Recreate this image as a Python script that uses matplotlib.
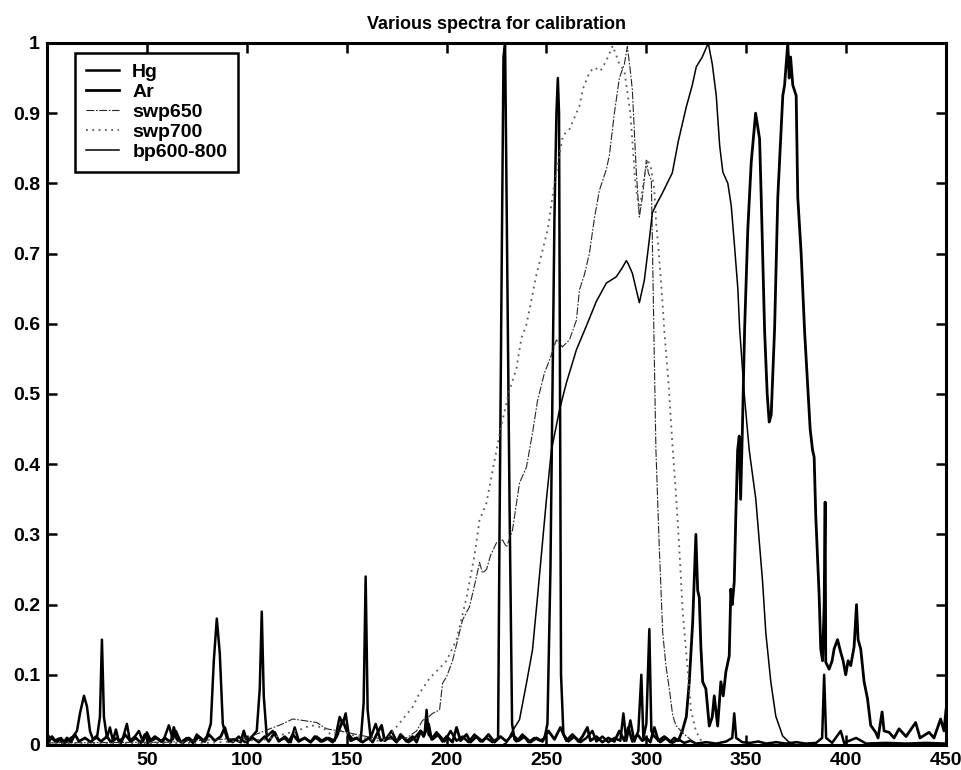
import matplotlib
matplotlib.use("Agg")
import matplotlib.pyplot as plt

plt.rcParams['font.family'] = ['Liberation Sans', 'DejaVu Sans']
plt.rcParams['font.weight'] = 'bold'

# ---- data (x = pixel index, y = normalised intensity)
hg_x = [1, 3, 5, 7, 9, 11, 13, 15, 16.5, 18.5, 20, 21.5, 23, 25, 26.5, 27.5, 28.5, 30,
        31.5, 33, 34.5, 36, 38, 40, 41.5, 44, 46, 48, 50, 52, 55, 58, 61, 63, 64.5, 67,
        70, 73, 75, 78, 80, 82, 83.5, 85, 86.5, 88, 90, 93, 96, 99, 102, 105, 106.5,
        107.5, 108.5, 110, 113, 116, 119, 122, 124, 126, 129, 132, 135, 138, 141, 144,
        146.5, 148, 149.5, 151, 153, 155, 157, 158.5, 159.5, 160.5, 162, 164.5, 167, 170,
        172.5, 175, 178, 181, 184, 187, 189, 190, 191, 193, 196, 199, 202, 205, 208, 211,
        214, 217, 220, 223, 225.8, 226.5, 227.5, 228.5, 229.3, 230.3, 231.5, 232.8, 234,
        235, 238, 241, 244, 247, 249, 250.5, 251.3, 252, 253, 254, 255, 255.7, 256.3, 256.8,
        257.3, 258.5, 261, 264, 267, 270, 273, 275, 278, 281, 284, 287, 288.5, 290, 292, 294,
        296, 297.5, 298.5, 300, 301.5, 302.5, 304, 307, 310, 313, 316, 319, 322, 325, 330,
        335, 340, 343, 344, 345, 348, 352, 356, 360, 365, 370, 375, 380, 385, 388, 389,
        390, 393, 397.3, 399, 405, 410, 420, 430, 440, 450]
hg_y = [0.012, 0.008, 0.004, 0.01, 0.003, 0.008, 0.012, 0.02, 0.045, 0.07, 0.055, 0.02,
        0.008, 0.01, 0.04, 0.15, 0.04, 0.01, 0.025, 0.006, 0.022, 0.005, 0.01, 0.03, 0.006,
        0.012, 0.02, 0.005, 0.018, 0.006, 0.01, 0.004, 0.028, 0.008, 0.02, 0.004, 0.01,
        0.003, 0.015, 0.005, 0.012, 0.03, 0.12, 0.18, 0.13, 0.03, 0.01, 0.004, 0.012, 0.004,
        0.01, 0.02, 0.08, 0.19, 0.07, 0.012, 0.02, 0.005, 0.012, 0.004, 0.025, 0.006, 0.01,
        0.004, 0.012, 0.005, 0.01, 0.006, 0.04, 0.03, 0.045, 0.015, 0.008, 0.01, 0.005,
        0.06, 0.24, 0.05, 0.01, 0.03, 0.006, 0.01, 0.02, 0.005, 0.012, 0.004, 0.01, 0.02,
        0.015, 0.05, 0.015, 0.008, 0.015, 0.005, 0.02, 0.006, 0.012, 0.004, 0.015, 0.005,
        0.01, 0.004, 0.01, 0.3, 0.65, 0.98, 1.0, 0.7, 0.35, 0.03, 0.008, 0.005, 0.015, 0.004,
        0.01, 0.006, 0.01, 0.03, 0.15, 0.25, 0.5, 0.75, 0.9, 0.95, 0.9, 0.5, 0.1, 0.015,
        0.005, 0.012, 0.004, 0.01, 0.02, 0.005, 0.012, 0.004, 0.01, 0.006, 0.045, 0.006,
        0.035, 0.005, 0.02, 0.1, 0.01, 0.03, 0.165, 0.02, 0.012, 0.004, 0.01, 0.003, 0.008,
        0.003, 0.006, 0.002, 0.004, 0.002, 0.005, 0.01, 0.045, 0.01, 0.004, 0.003, 0.005,
        0.002, 0.004, 0.002, 0.004, 0.002, 0.003, 0.01, 0.1, 0.01, 0.003, 0.02, 0.003,
        0.01, 0.002, 0.003, 0.002, 0.003, 0.002]

ar_x = [1, 2.5, 4, 6, 8, 10, 12, 14, 16, 19, 22, 24.5, 27, 30, 32, 35, 37, 39, 42, 44.5,
        47, 49, 51, 54, 57, 59, 62, 63.5, 65, 68, 71, 73.5, 76, 79, 81, 84, 87, 89, 91, 94,
        97, 98.5, 100, 103, 106, 109, 111, 114, 116, 119, 121, 123, 126, 129, 132, 134, 137,
        140, 143, 145, 148, 150, 152, 155, 158, 161, 163, 165, 167.5, 169, 172, 175, 177,
        180, 183, 185, 187, 188.5, 191, 192.5, 195, 198, 200, 203, 205, 207, 210, 212, 215,
        218, 221, 224, 227, 230, 233, 236, 239, 242, 245, 248, 251, 254, 257, 260, 263, 266,
        268, 270.5, 272, 275, 278, 281, 284, 286.5, 289, 291, 293, 295.5, 298, 300, 302, 304,
        306, 309, 312, 314, 316, 318, 320, 321.5, 323.2, 324.8, 325.7, 326.5, 327.3, 328.2,
        329.8, 331.5, 333, 334, 335.7, 337.3, 338.5, 339.8, 341.5, 342.3, 343, 344, 344.8,
        345.7, 346.5, 347.2, 348, 349.2, 350.8, 352.5, 354.7, 356.7, 357.5, 358.3, 359.2,
        360.5, 361.5, 362.5, 364.2, 365.8, 368.3, 369.2, 370, 370.8, 371.5, 372.2, 373.3,
        375, 375.8, 377.5, 379.2, 381, 382, 383.2, 384, 384.8, 386.5, 387.3, 388.2, 389,
        389.5, 389.8, 391.5, 393, 394, 395.7, 397.3, 398.5, 399.8, 401, 402.3, 404, 405.2,
        406, 407.3, 409, 410.7, 412.3, 414.8, 416, 418, 419, 421.5, 424, 426.5, 430, 434.8,
        437, 441.5, 444, 447.3, 449, 450]
ar_y = [0.005, 0.012, 0.006, 0.009, 0.002, 0.01, 0.004, 0.015, 0.005, 0.01, 0.004, 0.012,
        0.005, 0.012, 0.004, 0.01, 0.003, 0.015, 0.005, 0.01, 0.003, 0.015, 0.004, 0.012,
        0.005, 0.01, 0.004, 0.025, 0.008, 0.003, 0.01, 0.004, 0.012, 0.005, 0.015, 0.006,
        0.012, 0.025, 0.005, 0.008, 0.004, 0.02, 0.005, 0.01, 0.004, 0.012, 0.005, 0.018,
        0.006, 0.01, 0.004, 0.015, 0.005, 0.01, 0.004, 0.012, 0.005, 0.01, 0.004, 0.012,
        0.035, 0.02, 0.006, 0.01, 0.004, 0.01, 0.004, 0.015, 0.028, 0.006, 0.012, 0.004,
        0.015, 0.005, 0.012, 0.004, 0.02, 0.012, 0.03, 0.008, 0.018, 0.005, 0.012, 0.004,
        0.025, 0.006, 0.015, 0.004, 0.012, 0.005, 0.015, 0.004, 0.012, 0.005, 0.015, 0.006,
        0.012, 0.004, 0.01, 0.005, 0.02, 0.008, 0.025, 0.006, 0.015, 0.005, 0.012, 0.025,
        0.006, 0.012, 0.004, 0.01, 0.005, 0.02, 0.006, 0.025, 0.005, 0.015, 0.006, 0.01,
        0.004, 0.025, 0.006, 0.012, 0.004, 0.01, 0.006, 0.02, 0.04, 0.09, 0.175, 0.30,
        0.22, 0.21, 0.14, 0.09, 0.08, 0.027, 0.04, 0.07, 0.027, 0.09, 0.07, 0.104, 0.127,
        0.222, 0.2, 0.232, 0.327, 0.42, 0.44, 0.35, 0.44, 0.593, 0.735, 0.83, 0.90, 0.863,
        0.78, 0.69, 0.59, 0.5, 0.46, 0.47, 0.593, 0.78, 0.925, 0.94, 0.97, 1.0, 0.95, 0.98,
        0.94, 0.925, 0.78, 0.70, 0.59, 0.5, 0.45, 0.42, 0.41, 0.327, 0.213, 0.137, 0.12,
        0.2, 0.346, 0.118, 0.108, 0.12, 0.137, 0.15, 0.132, 0.12, 0.1, 0.12, 0.113, 0.14,
        0.2, 0.15, 0.137, 0.09, 0.066, 0.028, 0.018, 0.01, 0.047, 0.02, 0.018, 0.01, 0.023,
        0.012, 0.032, 0.01, 0.018, 0.01, 0.037, 0.02, 0.05]

swp650_x = [1, 60, 100, 111.5, 118, 123, 128, 135, 140, 150, 160, 170, 180, 185, 188, 191,
            193, 196.5, 198, 200, 203, 208, 211.5, 215, 216.5, 218, 220, 222, 225, 228, 230,
            233, 236.5, 240, 243, 245.5, 249, 251.5, 255, 258, 261.5, 265, 266.5, 269, 271.5,
            274, 276.5, 280, 281.5, 284, 286.5, 289, 290.5, 292, 293, 295, 296.5, 298, 300,
            301, 302.5, 303, 304, 304.8, 306.5, 308.2, 309.8, 311.5, 313.2, 314.8, 318, 322,
            326, 450]
swp650_y = [0.003, 0.004, 0.01, 0.023, 0.03, 0.037, 0.035, 0.032, 0.023, 0.018, 0.012,
            0.008, 0.01, 0.02, 0.035, 0.04, 0.045, 0.05, 0.088, 0.097, 0.12, 0.178, 0.197,
            0.24, 0.26, 0.245, 0.25, 0.27, 0.288, 0.292, 0.282, 0.306, 0.373, 0.396, 0.444,
            0.49, 0.53, 0.548, 0.577, 0.567, 0.577, 0.605, 0.648, 0.67, 0.70, 0.75, 0.79, 0.82,
            0.84, 0.9, 0.95, 0.97, 0.995, 0.96, 0.933, 0.815, 0.752, 0.78, 0.833, 0.815, 0.805,
            0.72, 0.55, 0.42, 0.28, 0.16, 0.113, 0.08, 0.042, 0.028, 0.018, 0.008, 0.0, 0.0]

swp700_x = [1, 80, 110, 118, 125, 132, 138, 142, 147, 155, 165, 170, 175, 179, 183, 186.5,
            191.5, 196, 200, 205, 210, 214, 216.5, 220, 223, 227, 231, 235, 237.5, 239.8,
            241.3, 245, 250.7, 254, 258.2, 261.5, 266.5, 268.2, 271.5, 274, 277, 280, 283.2,
            286.5, 289, 292, 294.5, 296.5, 298.5, 300.5, 302.5, 304, 305, 306, 308.2, 309,
            311, 313, 315, 316.5, 318.2, 319.8, 320.7, 322.3, 324.8, 327, 330, 450]
swp700_y = [0.002, 0.003, 0.008, 0.015, 0.02, 0.028, 0.025, 0.015, 0.02, 0.012, 0.006,
            0.008, 0.026, 0.04, 0.054, 0.074, 0.095, 0.108, 0.12, 0.15, 0.21, 0.27, 0.32,
            0.345, 0.39, 0.45, 0.5, 0.537, 0.58, 0.597, 0.617, 0.67, 0.735, 0.8, 0.868, 0.877,
            0.91, 0.934, 0.958, 0.965, 0.96, 0.975, 0.996, 0.97, 0.96, 0.9, 0.8, 0.76, 0.8,
            0.835, 0.82, 0.79, 0.74, 0.71, 0.626, 0.59, 0.52, 0.43, 0.35, 0.28, 0.19, 0.137,
            0.108, 0.05, 0.02, 0.008, 0.0, 0.0]

bp_x = [1, 100, 200, 228, 230, 233, 236.5, 240, 243, 245.5, 250, 252.5, 256.5, 260, 265,
        270, 275, 280, 285, 288, 290, 291, 293, 296.5, 299, 301.5, 303, 305, 308, 313, 316,
        320, 323, 325, 328, 331, 333, 335, 336.7, 338.3, 340.8, 342.5, 344, 345.8, 346.7,
        349, 351.5, 354.8, 358.2, 359.8, 362.3, 364.8, 368.2, 371, 375, 450]
bp_y = [0.0, 0.0, 0.0, 0.0, 0.003, 0.02, 0.036, 0.088, 0.135, 0.21, 0.35, 0.42, 0.477,
        0.516, 0.563, 0.597, 0.632, 0.658, 0.667, 0.68, 0.69, 0.685, 0.672, 0.63, 0.662,
        0.72, 0.758, 0.77, 0.786, 0.815, 0.86, 0.909, 0.94, 0.966, 0.98, 1.0, 0.97, 0.925,
        0.854, 0.816, 0.80, 0.768, 0.716, 0.65, 0.593, 0.5, 0.42, 0.35, 0.232, 0.16, 0.09,
        0.041, 0.013, 0.005, 0.0, 0.0]

xticks = [50, 100, 150, 200, 250, 300, 350, 400, 450]
yticks = [0, 0.1, 0.2, 0.3, 0.4, 0.5, 0.6, 0.7, 0.8, 0.9, 1]
ytick_labels = ['0', '0.1', '0.2', '0.3', '0.4', '0.5', '0.6', '0.7', '0.8', '0.9', '1']

fig = plt.figure(figsize=(9.61, 7.70), dpi=100)
ax = fig.add_axes([0.0489, 0.0325, 0.9355, 0.9117])

ax.plot(hg_x, hg_y, color='black', lw=1.8, label='Hg')
ax.plot(ar_x, ar_y, color='black', lw=2.0, label='Ar')
ax.plot(swp650_x, swp650_y, color='0.15', lw=0.8, ls=(0, (7, 1.5, 1.5, 1.5)), label='swp650')
ax.plot(swp700_x, swp700_y, color='0.35', lw=1.3, ls=(0, (1, 2.5)), label='swp700')
ax.plot(bp_x, bp_y, color='black', lw=1.1, label='bp600-800')

ax.set_xlim(0, 450)
ax.set_ylim(0, 1)
ax.set_xticks(xticks)
ax.set_yticks(yticks)
ax.set_yticklabels(ytick_labels)
ax.tick_params(direction='in', length=7, width=1.8, top=True, right=True,
               labelsize=14, pad=5)
for lab in ax.get_xticklabels() + ax.get_yticklabels():
    lab.set_fontweight('bold')
for sp in ax.spines.values():
    sp.set_linewidth(2.2)

ax.set_title('Various spectra for calibration', fontsize=13, fontweight='bold', pad=10)

leg = ax.legend(loc='upper left', bbox_to_anchor=(0.031, 0.986), borderaxespad=0,
                fancybox=False, framealpha=1, edgecolor='black', handlelength=1.7,
                handletextpad=0.7, labelspacing=0.12, borderpad=0.55,
                prop={'weight': 'bold', 'size': 14})
leg.get_frame().set_linewidth(1.8)

fig.savefig('out.png', dpi=100)
